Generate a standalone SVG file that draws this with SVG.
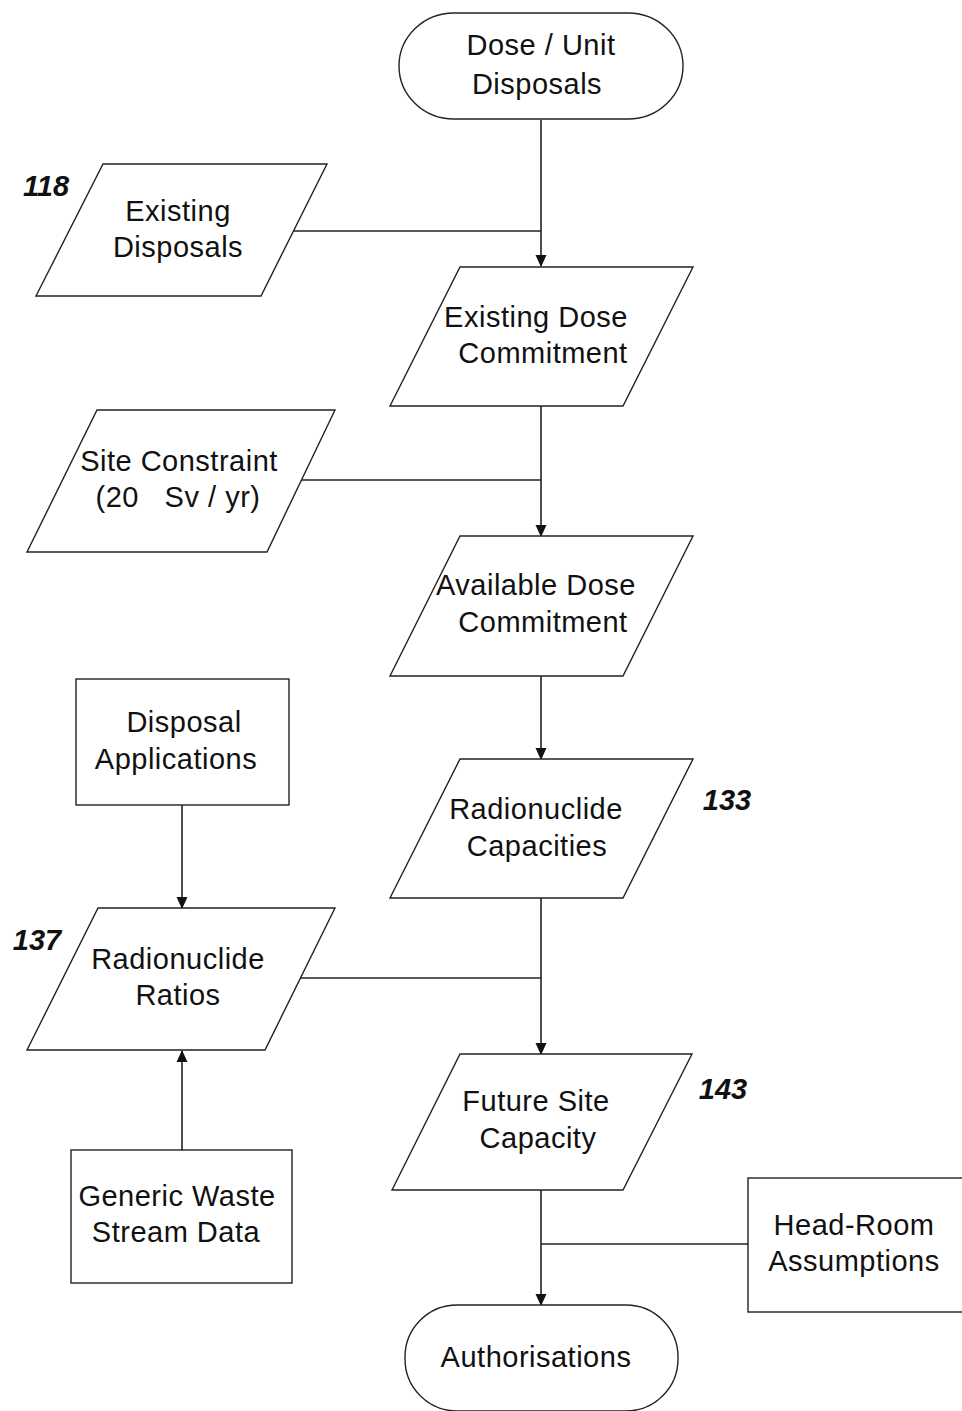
<svg xmlns="http://www.w3.org/2000/svg" width="962" height="1411" viewBox="0 0 962 1411">
<style>
.s{fill:#fff;stroke:#222;stroke-width:1.4}
.t{font-family:"Liberation Sans",Arial,sans-serif;font-size:29px;letter-spacing:0.5px;fill:#111;text-anchor:middle}
.n{font-family:"Liberation Sans",Arial,sans-serif;font-size:29px;font-weight:bold;font-style:italic;fill:#111;text-anchor:middle}
.c{fill:none;stroke:#222;stroke-width:1.6}
</style>
<defs>
<marker id="ah" markerWidth="12" markerHeight="12" refX="11" refY="6" orient="auto" markerUnits="userSpaceOnUse">
<path d="M0,0.5 L12,6 L0,11.5 Z" fill="#111"/>
</marker>
</defs>
<rect width="962" height="1411" fill="#fff"/>
<g id="connectors">
<path class="c" d="M541,120 V266" marker-end="url(#ah)"/>
<path class="c" d="M294,231 H541"/>
<path class="c" d="M541,406 V536" marker-end="url(#ah)"/>
<path class="c" d="M301,480 H541"/>
<path class="c" d="M541,676 V759" marker-end="url(#ah)"/>
<path class="c" d="M541,898 V1054" marker-end="url(#ah)"/>
<path class="c" d="M301,978 H541"/>
<path class="c" d="M182,805 V908" marker-end="url(#ah)"/>
<path class="c" d="M182,1150 V1051" marker-end="url(#ah)"/>
<path class="c" d="M541,1190 V1305" marker-end="url(#ah)"/>
<path class="c" d="M541,1244 H748"/>
</g>
<g id="dose-unit">
<rect class="s" x="399" y="13" width="284" height="106" rx="55" ry="53"/>
<text class="t" x="541" y="55">Dose / Unit</text>
<text class="t" x="537" y="94">Disposals</text>
</g>
<g id="existing-disposals">
<polygon class="s" points="103,164 327,164 261,296 36,296"/>
<text class="t" x="178" y="221">Existing</text>
<text class="t" x="178" y="257">Disposals</text>
<text class="n" x="46" y="196">118</text>
</g>
<g id="existing-dose">
<polygon class="s" points="460,267 693,267 623,406 390,406"/>
<text class="t" x="536" y="327">Existing Dose</text>
<text class="t" x="543" y="363">Commitment</text>
</g>
<g id="site-constraint">
<polygon class="s" points="97,410 335,410 267,552 27,552"/>
<text class="t" x="179" y="471">Site Constraint</text>
<text class="t" x="178" y="507" xml:space="preserve">(20   Sv / yr)</text>
</g>
<g id="available-dose">
<polygon class="s" points="460,536 693,536 623,676 390,676"/>
<text class="t" x="536" y="595">Available Dose</text>
<text class="t" x="543" y="632">Commitment</text>
</g>
<g id="disposal-applications">
<rect class="s" x="76" y="679" width="213" height="126"/>
<text class="t" x="184" y="732">Disposal</text>
<text class="t" x="176" y="769">Applications</text>
</g>
<g id="radionuclide-capacities">
<polygon class="s" points="460,759 693,759 623,898 390,898"/>
<text class="t" x="536" y="819">Radionuclide</text>
<text class="t" x="537" y="856">Capacities</text>
<text class="n" x="727" y="810">133</text>
</g>
<g id="radionuclide-ratios">
<polygon class="s" points="98,908 335,908 265,1050 27,1050"/>
<text class="t" x="178" y="969">Radionuclide</text>
<text class="t" x="178" y="1005">Ratios</text>
<text class="n" x="37" y="950">137</text>
</g>
<g id="future-site-capacity">
<polygon class="s" points="460,1054 692,1054 623,1190 392,1190"/>
<text class="t" x="536" y="1111">Future Site</text>
<text class="t" x="538" y="1148">Capacity</text>
<text class="n" x="723" y="1099">143</text>
</g>
<g id="generic-waste">
<rect class="s" x="71" y="1150" width="221" height="133"/>
<text class="t" x="177" y="1206">Generic Waste</text>
<text class="t" x="176" y="1242">Stream Data</text>
</g>
<g id="head-room">
<rect class="s" x="748" y="1178" width="220" height="134"/>
<text class="t" x="854" y="1235">Head-Room</text>
<text class="t" x="854" y="1271">Assumptions</text>
</g>
<g id="authorisations">
<rect class="s" x="405" y="1305" width="273" height="106" rx="52" ry="52"/>
<text class="t" x="536" y="1367">Authorisations</text>
</g>
</svg>
